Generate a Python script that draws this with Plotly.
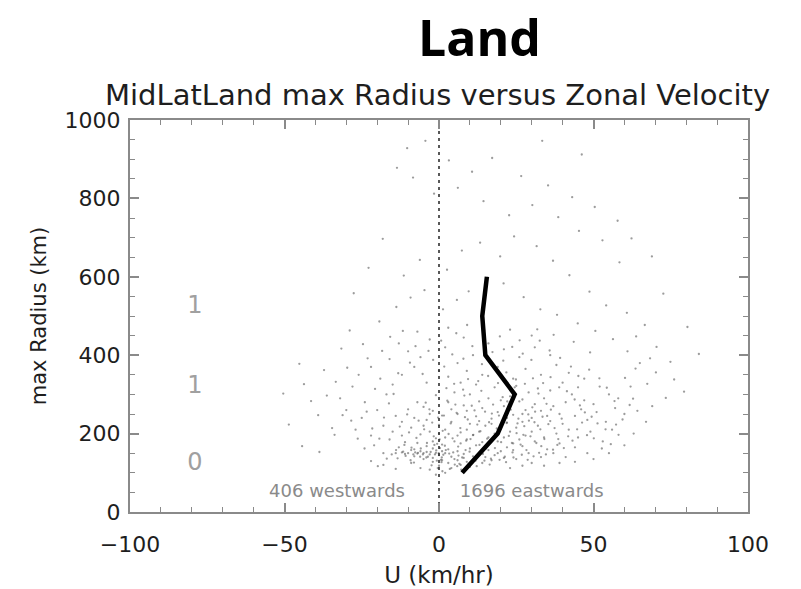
import plotly.graph_objects as go

# Scatter cloud (U km/hr, max radius km)
cloud_core = [
    (-8,142),(-5,150),(-3,147),(-6,155),(-2,138),(0,145),(2,150),(4,141),(-9,158),(-4,168),
    (1,172),(3,160),(6,155),(8,148),(10,162),(12,170),(5,180),(-1,188),(-7,176),(9,185),
    (14,178),(16,190),(11,196),(7,203),(2,210),(-3,205),(-6,198),(13,205),(18,200),(20,212),
    (15,220),(10,225),(4,230),(0,222),(-4,235),(22,228),(25,215),(27,230),(17,238),(12,244),
    (6,250),(1,246),(-2,258),(19,255),(24,248),(28,260),(30,240),(21,270),(14,265),(8,272),
    (3,280),(-5,268),(26,282),(31,275),(33,258),(35,245),(23,295),(16,290),(10,300),(5,305),
    (-1,298),(29,305),(34,290),(37,270),(39,250),(18,318),(12,325),(7,330),(25,322),(32,315),
    (-9,215),(-12,230),(-14,245),(-10,262),(-7,280),(-12,195),(-15,205),(-11,178),(-13,165),(-16,185),
    (3,125),(6,132),(9,128),(12,136),(15,140),(18,145),(20,155),(22,165),(24,175),(26,185),
    (28,195),(30,205),(32,220),(36,232),(40,225),(42,210),(38,200),(34,190),(31,180),(27,168),
    (24,158),(19,150),(16,158),(13,150),(11,142),(8,138),(5,135),(1,132),(-2,128),(-5,135),
    (0,118),(4,112),(-3,108),(7,120),(10,115),(2,100),(-1,95),(14,125),(17,132),(21,138),
    (44,245),(46,262),(41,280),(43,300),(47,285),(36,310),(40,330),(45,318),(50,275),(48,235),
    (-10,150),(-12,152),(-7,149),(-4,153),(-1,151),(1,155),(-11,148),(-14,150),(-8,160),(-2,162),
    (2,190),(6,195),(9,210),(13,232),(17,225),(21,190),(23,205),(19,180),(15,168),(7,175),
    (0,200),(-5,220),(-8,240),(-3,250),(4,262),(9,258),(13,282),(20,285),(27,250),(22,240),
]
cloud_core2 = [
    (-13.4,137),(-11.2,171),(-9.7,203),(-8.1,126),(-7.3,189),(-6.6,233),(-5.2,147),(-4.8,211),(-3.9,176),(-3.1,262),
    (-2.4,119),(-1.7,193),(-0.9,157),(-0.3,241),(0.6,133),(1.2,207),(1.9,169),(2.7,284),(3.3,149),(3.8,226),
    (4.4,188),(5.1,121),(5.7,253),(6.2,167),(6.9,214),(7.5,139),(8.2,297),(8.8,182),(9.3,236),(9.9,154),
    (10.6,271),(11.1,197),(11.8,131),(12.4,223),(13.1,171),(13.7,309),(14.2,148),(14.9,256),(15.6,187),(16.2,229),
    (16.8,136),(17.5,274),(18.1,163),(18.7,213),(19.4,246),(20.1,178),(20.6,293),(21.3,141),(21.9,227),(22.6,194),
    (23.2,261),(23.8,152),(24.5,318),(25.1,201),(25.7,238),(26.4,172),(27.0,287),(27.6,219),(28.3,158),(28.9,249),
    (29.6,193),(30.2,267),(30.9,229),(31.5,176),(32.2,302),(32.8,211),(33.5,243),(34.1,186),(34.8,276),(35.4,224),
    (-12.7,218),(-10.3,249),(-8.9,164),(-6.1,141),(-4.3,279),(-2.2,228),(-0.6,174),(1.6,246),(3.1,199),(5.3,274),
    (6.6,123),(8.4,242),(10.2,186),(11.5,259),(13.4,206),(15.2,162),(17.1,251),(18.9,196),(20.4,231),(22.1,282),
    (23.6,176),(25.4,226),(27.3,197),(29.1,233),(31.1,256),(33.1,168),(36.2,261),(37.4,214),(38.6,186),(39.7,238),
    (-9.2,132),(-7.7,152),(-5.9,162),(-3.6,141),(-1.3,147),(0.9,139),(2.2,158),(4.6,152),(6.3,144),(8.6,158),
    (-11.6,154),(-13.9,158),(-15.3,147),(-10.8,143),(-8.3,147),(-6.8,151),(-4.1,139),(-2.7,153),(-0.1,150),(1.4,146),
    (0.3,163),(-0.7,131),(0.8,127),(-1.5,171),(0.2,185),(-0.4,112),(1.1,104),(3.5,110),(5.9,117),(7.2,108),
    (9.6,122),(12.2,117),(14.7,131),(16.4,121),(19.6,133),(21.7,127),(24.1,139),(26.8,146),(28.7,133),(30.6,142),
    (32.4,151),(34.6,147),(36.9,159),(38.3,171),(40.4,163),(41.8,193),(43.2,182),(44.7,211),(46.3,228),(47.9,196),
    (2.4,316),(4.9,327),(7.8,312),(9.4,339),(12.7,334),(15.9,347),(19.1,329),(21.8,356),(24.9,338),(27.8,327),
    (30.4,341),(33.7,329),(36.1,344),(38.9,318),(41.4,308),(43.9,287),(45.6,272),(47.2,254),(49.4,243),(51.3,226),
]
cloud_mid = [
    (-18,220),(-20,260),(-22,195),(-17,300),(-19,340),(-24,280),(-15,325),(-21,170),(-25,240),(-18,150),
    (-12,350),(-8,370),(-4,330),(0,360),(3,345),(-6,395),(-10,410),(2,420),(6,380),(9,360),
    (14,350),(19,370),(24,340),(28,365),(33,350),(38,375),(42,355),(47,340),(52,320),(55,300),
    (51,255),(54,230),(57,265),(49,205),(45,190),(53,180),(39,175),(35,160),(44,165),(29,150),
    (25,135),(33,140),(37,150),(41,140),(30,125),(48,150),(56,210),(60,250),(58,290),(62,320),
    (11,400),(16,430),(21,415),(26,395),(31,420),(36,400),(30,450),(23,465),(8,445),(3,470),
    (-3,440),(-7,460),(-13,430),(-16,390),(-22,370),(-28,320),(-30,260),(-27,210),(-32,290),(-26,350),
    (-2,180),(-18,120),(-14,110),(-9,125),(-22,130),(-6,112),(23,112),(27,118),(34,118),(39,125),
    (44,128),(50,135),(55,150),(60,170),(63,200),(67,230),(69,270),(65,380),(61,410),
]
cloud_mid2 = [
    (-19.3,187),(-21.6,213),(-23.4,256),(-17.8,241),(-16.2,277),(-14.7,301),(-20.7,314),(-26.3,187),(-28.4,233),(-24.1,162),
    (-16.9,136),(-19.8,117),(-13.2,354),(-9.4,381),(-5.3,352),(-1.9,388),(1.7,371),(4.3,402),(7.9,391),(10.8,423),
    (13.9,377),(17.3,408),(20.8,386),(23.7,421),(27.1,404),(29.9,388),(32.6,437),(35.8,412),(39.2,393),(42.7,371),
    (45.1,347),(48.6,363),(51.9,341),(54.3,317),(56.8,283),(59.4,236),(61.7,273),(64.2,258),(58.1,197),(55.6,173),
    (52.7,162),(50.1,188),(53.9,211),(57.3,223),(62.8,289),(67.4,327),(70.2,356),(68.3,392),(63.6,366),(60.2,342),
    (-7.6,423),(-3.4,411),(0.7,437),(5.6,456),(9.1,477),(14.6,463),(19.7,448),(26.1,438),(31.8,466),(37.1,452),
    (43.6,434),(48.9,407),(-11.7,462),(-15.8,447),(-18.4,411),(-23.1,392),(-29.7,368),(-33.4,332),(-31.2,247),(-34.6,214),
]
cloud_outer = [
    (-36.3,297),(-39.1,247),(-33.8,197),(-37.2,362),(-31.6,417),(-41.4,283),(-43.7,326),(-28.9,463),(-24.6,428),(-19.3,486),
    (-13.8,523),(-9.2,547),(-4.7,566),(1.3,517),(5.8,541),(9.6,563),(15.7,597),(20.9,583),(27.4,548),(32.8,517),
    (38.2,503),(44.9,481),(50.6,462),(56.3,441),(63.8,448),(70.4,421),(74.9,383),(76.1,338),(73.4,291),(79.3,307),
    (-11.4,603),(-6.2,643),(2.6,618),(7.4,667),(13.3,687),(19.8,652),(24.3,703),(31.6,678),(36.9,641),(42.2,604),
    (48.7,562),(54.1,527),(60.8,508),(66.6,477),(58.4,637),(52.9,693),(45.3,717),(38.6,752),(30.2,783),(22.7,757),
    (14.4,793),(6.1,827),(-1.6,812),(-8.4,853),(-13.6,878),(-10.3,928),(-4.4,947),(3.2,897),(10.7,868),(17.2,903),
    (26.6,857),(35.3,833),(43.1,803),(50.4,778),(57.8,743),(62.3,698),(68.9,652),(72.6,557),(80.4,472),(84.1,403),
    (-45.2,378),(-48.6,223),(-44.3,168),(-38.7,153),(-50.4,302),(-27.6,558),(-18.2,697),(-22.8,623),(33.4,947),(46.2,912),
]

# Median curve (thick black line)
curve_u = [7.5, 19, 24.5, 15, 14, 15.5]
curve_r = [100, 200, 300, 400, 500, 600]

# Labels inside the plot
count_labels = ["1", "1", "0"]
count_label_u = [-79, -79, -79]
count_label_r = [522, 320, 122]
dir_labels = ["406 westwards", "1696 eastwards"]
dir_label_u = [-33, 30]
dir_label_r = [51, 51]

pts = cloud_core + cloud_core2 + cloud_mid + cloud_mid2 + cloud_outer
pu = [p[0] for p in pts]
pr = [p[1] for p in pts]

FONT = "DejaVu Sans"
TXT = "#1e1e1e"

fig = go.Figure()
fig.add_trace(go.Scatter(
    x=pu, y=pr, mode="markers",
    marker=dict(size=2.3, color="rgba(90,90,90,0.6)", line=dict(width=0)),
    hoverinfo="skip", showlegend=False,
))
fig.add_trace(go.Scatter(
    x=[0, 0], y=[0, 1000], mode="lines",
    line=dict(color="#222222", width=1.5, dash="3px,4px"),
    hoverinfo="skip", showlegend=False,
))
fig.add_trace(go.Scatter(
    x=curve_u, y=curve_r, mode="lines",
    line=dict(color="black", width=4.5),
    showlegend=False,
))
fig.add_trace(go.Scatter(
    x=count_label_u, y=count_label_r, mode="text", text=count_labels,
    textfont=dict(family=FONT, size=24, color="#a0a0a0"),
    showlegend=False, hoverinfo="skip",
))
fig.add_trace(go.Scatter(
    x=dir_label_u, y=dir_label_r, mode="text", text=dir_labels,
    textfont=dict(family=FONT, size=18, color="#8a8a8a"),
    showlegend=False, hoverinfo="skip",
))

axis_common = dict(
    showgrid=False, zeroline=False, showline=True, mirror="ticks",
    linecolor="#8a8a8a", linewidth=2, ticks="inside", tickcolor="#8a8a8a",
    tickwidth=1.5, ticklen=9, automargin=False,
    tickfont=dict(family=FONT, size=22, color=TXT),
)

fig.update_xaxes(
    range=[-100, 100], tickvals=[-100, -50, 0, 50, 100],
    ticktext=["\u2212100", "\u221250", "0", "50", "100"],
    ticklabelstandoff=12,
    minor=dict(dtick=10, ticks="inside", ticklen=5, tickcolor="#8a8a8a", tickwidth=1.2),
    title=dict(text="U (km/hr)", font=dict(family=FONT, size=23, color=TXT), standoff=10),
    **axis_common,
)
fig.update_yaxes(
    range=[0, 1000], tickvals=[0, 200, 400, 600, 800, 1000],
    ticklabelstandoff=3,
    minor=dict(dtick=50, ticks="inside", ticklen=5, tickcolor="#8a8a8a", tickwidth=1.2),
    title=dict(text="max Radius (km)", font=dict(family=FONT, size=21, color=TXT), standoff=12),
    **axis_common,
)

pw, ph = 801 - 130 - 53, 589 - 120 - 77
def paper(px, py):
    return (px - 130) / pw, (589 - 77 - py) / ph

tx, ty = paper(479, 37)
sx, sy = paper(437, 95)
fig.update_layout(
    width=801, height=589,
    margin=dict(l=130, r=53, t=120, b=77, autoexpand=False),
    paper_bgcolor="white", plot_bgcolor="white",
    annotations=[
        dict(text="<b>Land</b>", x=tx, y=ty, xref="paper", yref="paper",
             showarrow=False, xanchor="center", yanchor="middle",
             font=dict(family="Open Sans", size=50, color="black")),
        dict(text="MidLatLand max Radius versus Zonal Velocity", x=sx, y=sy,
             xref="paper", yref="paper", showarrow=False,
             xanchor="center", yanchor="middle",
             font=dict(family=FONT, size=29, color=TXT)),
    ],
)

fig.write_html("out.html")
